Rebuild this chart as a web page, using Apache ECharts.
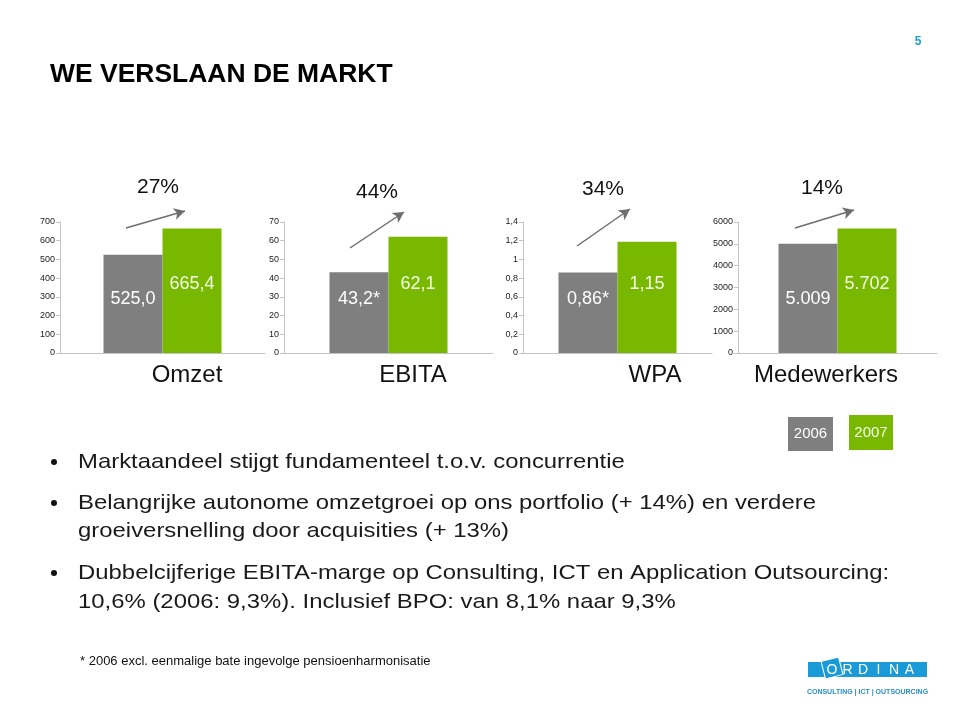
<!DOCTYPE html>
<html><head><meta charset="utf-8">
<script src="https://cdn.jsdelivr.net/npm/echarts/dist/echarts.min.js"></script>
<style>html,body{margin:0;padding:0;background:#fff}#c{width:960px;height:718px}</style>
</head><body><div id="c"></div>
<script>
// ---- data ----
const categories = ['Omzet', 'EBITA', 'WPA', 'Medewerkers'];
const years = ['2006', '2007'];
const values2006 = [525.0, 43.2, 0.86, 5009];
const values2007 = [665.4, 62.1, 1.19, 5702];
const labels2006 = ['525,0', '43,2*', '0,86*', '5.009'];
const labels2007 = ['665,4', '62,1', '1,15', '5.702'];
const growth = ['27%', '44%', '34%', '14%'];
const axisMax = [700, 70, 1.4, 6000];
const axisStep = [100, 10, 0.2, 1000];
const tickLabels0 = ['0', '100', '200', '300', '400', '500', '600', '700'];
const tickLabels1 = ['0', '10', '20', '30', '40', '50', '60', '70'];
const tickLabels2 = ['0', '0,2', '0,4', '0,6', '0,8', '1', '1,2', '1,4'];
const tickLabels3 = ['0', '1000', '2000', '3000', '4000', '5000', '6000'];
const tickLabels = [tickLabels0, tickLabels1, tickLabels2, tickLabels3];
const titleText = 'WE VERSLAAN DE MARKT';
const pageNumber = '5';
const bullets = [
  'Marktaandeel stijgt fundamenteel t.o.v. concurrentie',
  'Belangrijke autonome omzetgroei op ons portfolio (+ 14%) en verdere',
  'groeiversnelling door acquisities (+ 13%)',
  'Dubbelcijferige EBITA-marge op Consulting, ICT en Application Outsourcing:',
  '10,6% (2006: 9,3%). Inclusief BPO: van 8,1% naar 9,3%'
];
const bulletHasDot = [true, true, false, true, false];
const footnote = '* 2006 excl. eenmalige bate ingevolge pensioenharmonisatie';

// ---- layout / style ----
const GRAY = '#7f7f7f', GREEN = '#78b800', AXIS = '#c4c4c4';
const FONT = '"Liberation Sans", Arial, Helvetica, sans-serif';
const gridLeft = [60, 284, 523, 738];
const gridWidth = [205, 209, 189, 199];
const gridTop = 222, gridHeight = 131;
const catPos = [[187, 375], [413, 375], [655, 375], [826, 375]];
const growthPos = [[158, 187], [377, 192], [603, 189], [822, 188]];
const arrows = [[126, 228, 185, 211], [350, 248, 404, 212], [577, 246, 630, 209], [795, 228, 854, 210]];
const bulletY = [462, 503, 531, 573, 602];

const grid = [], xAxis = [], yAxis = [], series = [];
for (let i = 0; i < 4; i++) {
  grid.push({left: gridLeft[i], top: gridTop, width: gridWidth[i], height: gridHeight});
  xAxis.push({
    type: 'category', gridIndex: i, data: [categories[i]],
    axisLine: {show: true, lineStyle: {color: AXIS, width: 1}},
    axisTick: {show: false}, axisLabel: {show: false}, splitLine: {show: false}
  });
  yAxis.push({
    type: 'value', gridIndex: i, min: 0, max: axisMax[i], interval: axisStep[i],
    axisLine: {show: true, lineStyle: {color: AXIS, width: 1}},
    axisTick: {show: true, length: 4, lineStyle: {color: AXIS}},
    splitLine: {show: false},
    axisLabel: {
      fontSize: 9, color: '#222', fontFamily: FONT, margin: 5,
      formatter: (v) => tickLabels[i][Math.round(v / axisStep[i])]
    }
  });
  const a = arrows[i];
  series.push({
    name: years[0], type: 'bar', xAxisIndex: i, yAxisIndex: i,
    data: [values2006[i]], barWidth: 59, barGap: '0%',
    itemStyle: {color: GRAY},
    label: {show: true, position: 'insideBottom', distance: 45, formatter: labels2006[i],
      color: '#ffffff', fontSize: 18, fontFamily: FONT},
    markLine: {
      silent: true, symbol: ['none', 'arrow'], symbolSize: [9, 11],
      lineStyle: {color: '#6e6e6e', width: 1.5, type: 'solid'},
      label: {show: false},
      data: [[{x: a[0], y: a[1]}, {x: a[2], y: a[3]}]]
    }
  });
  series.push({
    name: years[1], type: 'bar', xAxisIndex: i, yAxisIndex: i,
    data: [values2007[i]], barWidth: 59, barGap: '0%',
    itemStyle: {color: GREEN},
    label: {show: true, position: 'insideBottom', distance: 60, formatter: labels2007[i],
      color: '#f4ffe6', fontSize: 18, fontFamily: FONT}
  });
}

const graphic = [];
// title & page number
graphic.push({type: 'text', x: 50, y: 75, scaleX: 1.018, style: {x: 0, y: 0, text: titleText, font: 'bold 26px ' + FONT, fill: '#000',
  textAlign: 'left', textVerticalAlign: 'middle'}});
graphic.push({type: 'text', style: {x: 918, y: 42, text: pageNumber, font: 'bold 12px ' + FONT, fill: '#1aa0d2',
  textAlign: 'center', textVerticalAlign: 'middle'}});
// category names & growth
for (let i = 0; i < 4; i++) {
  graphic.push({type: 'text', style: {x: catPos[i][0], y: catPos[i][1], text: categories[i], font: '24px ' + FONT,
    fill: '#111', textAlign: 'center', textVerticalAlign: 'middle'}});
  graphic.push({type: 'text', style: {x: growthPos[i][0], y: growthPos[i][1], text: growth[i], font: '21px ' + FONT,
    fill: '#111', textAlign: 'center', textVerticalAlign: 'middle'}});
}
// legend boxes
graphic.push({type: 'rect', shape: {x: 788, y: 417, width: 45, height: 34}, style: {fill: GRAY}});
graphic.push({type: 'text', style: {x: 810.5, y: 434, text: years[0], font: '15px ' + FONT, fill: '#fff',
  textAlign: 'center', textVerticalAlign: 'middle'}});
graphic.push({type: 'rect', shape: {x: 849, y: 415, width: 44, height: 35}, style: {fill: GREEN}});
graphic.push({type: 'text', style: {x: 871, y: 432.5, text: years[1], font: '15px ' + FONT, fill: '#f4ffe6',
  textAlign: 'center', textVerticalAlign: 'middle'}});
// bullets
for (let k = 0; k < bullets.length; k++) {
  if (bulletHasDot[k]) graphic.push({type: 'circle', shape: {cx: 54, cy: bulletY[k], r: 3}, style: {fill: '#111'}});
  graphic.push({type: 'text', x: 78, y: bulletY[k], scaleX: 1.138,
    style: {x: 0, y: 0, text: bullets[k], font: '21px ' + FONT, fill: '#1a1a1a',
    textAlign: 'left', textVerticalAlign: 'middle'}});
}
// footnote
graphic.push({type: 'text', style: {x: 80, y: 661, text: footnote, font: '13px ' + FONT, fill: '#111',
  textAlign: 'left', textVerticalAlign: 'middle'}});
// logo
const LOGO = '#1a9ad6';
graphic.push({type: 'rect', shape: {x: 808, y: 662, width: 119, height: 15}, style: {fill: LOGO}});
graphic.push({type: 'rect', shape: {x: -9, y: -9, width: 18, height: 18}, x: 832, y: 668, rotation: 0.25,
  style: {fill: LOGO, stroke: '#fff', lineWidth: 1}});
const logoLetters = ['O', 'R', 'D', 'I', 'N', 'A'];
for (let k = 0; k < logoLetters.length; k++) {
  graphic.push({type: 'text', style: {x: 832 + k * 15.5, y: 670, text: logoLetters[k], font: '14px ' + FONT, fill: '#fff',
    textAlign: 'center', textVerticalAlign: 'middle'}});
}
graphic.push({type: 'text', style: {x: 867.5, y: 692, text: 'CONSULTING | ICT | OUTSOURCING', font: 'bold 7px ' + FONT,
  fill: '#2a8fc4', textAlign: 'center', textVerticalAlign: 'middle'}});

const chart = echarts.init(document.getElementById('c'), null, {renderer: 'canvas'});
chart.setOption({
  animation: false,
  backgroundColor: '#ffffff',
  grid, xAxis, yAxis, series, graphic
});
</script>
</body></html>
